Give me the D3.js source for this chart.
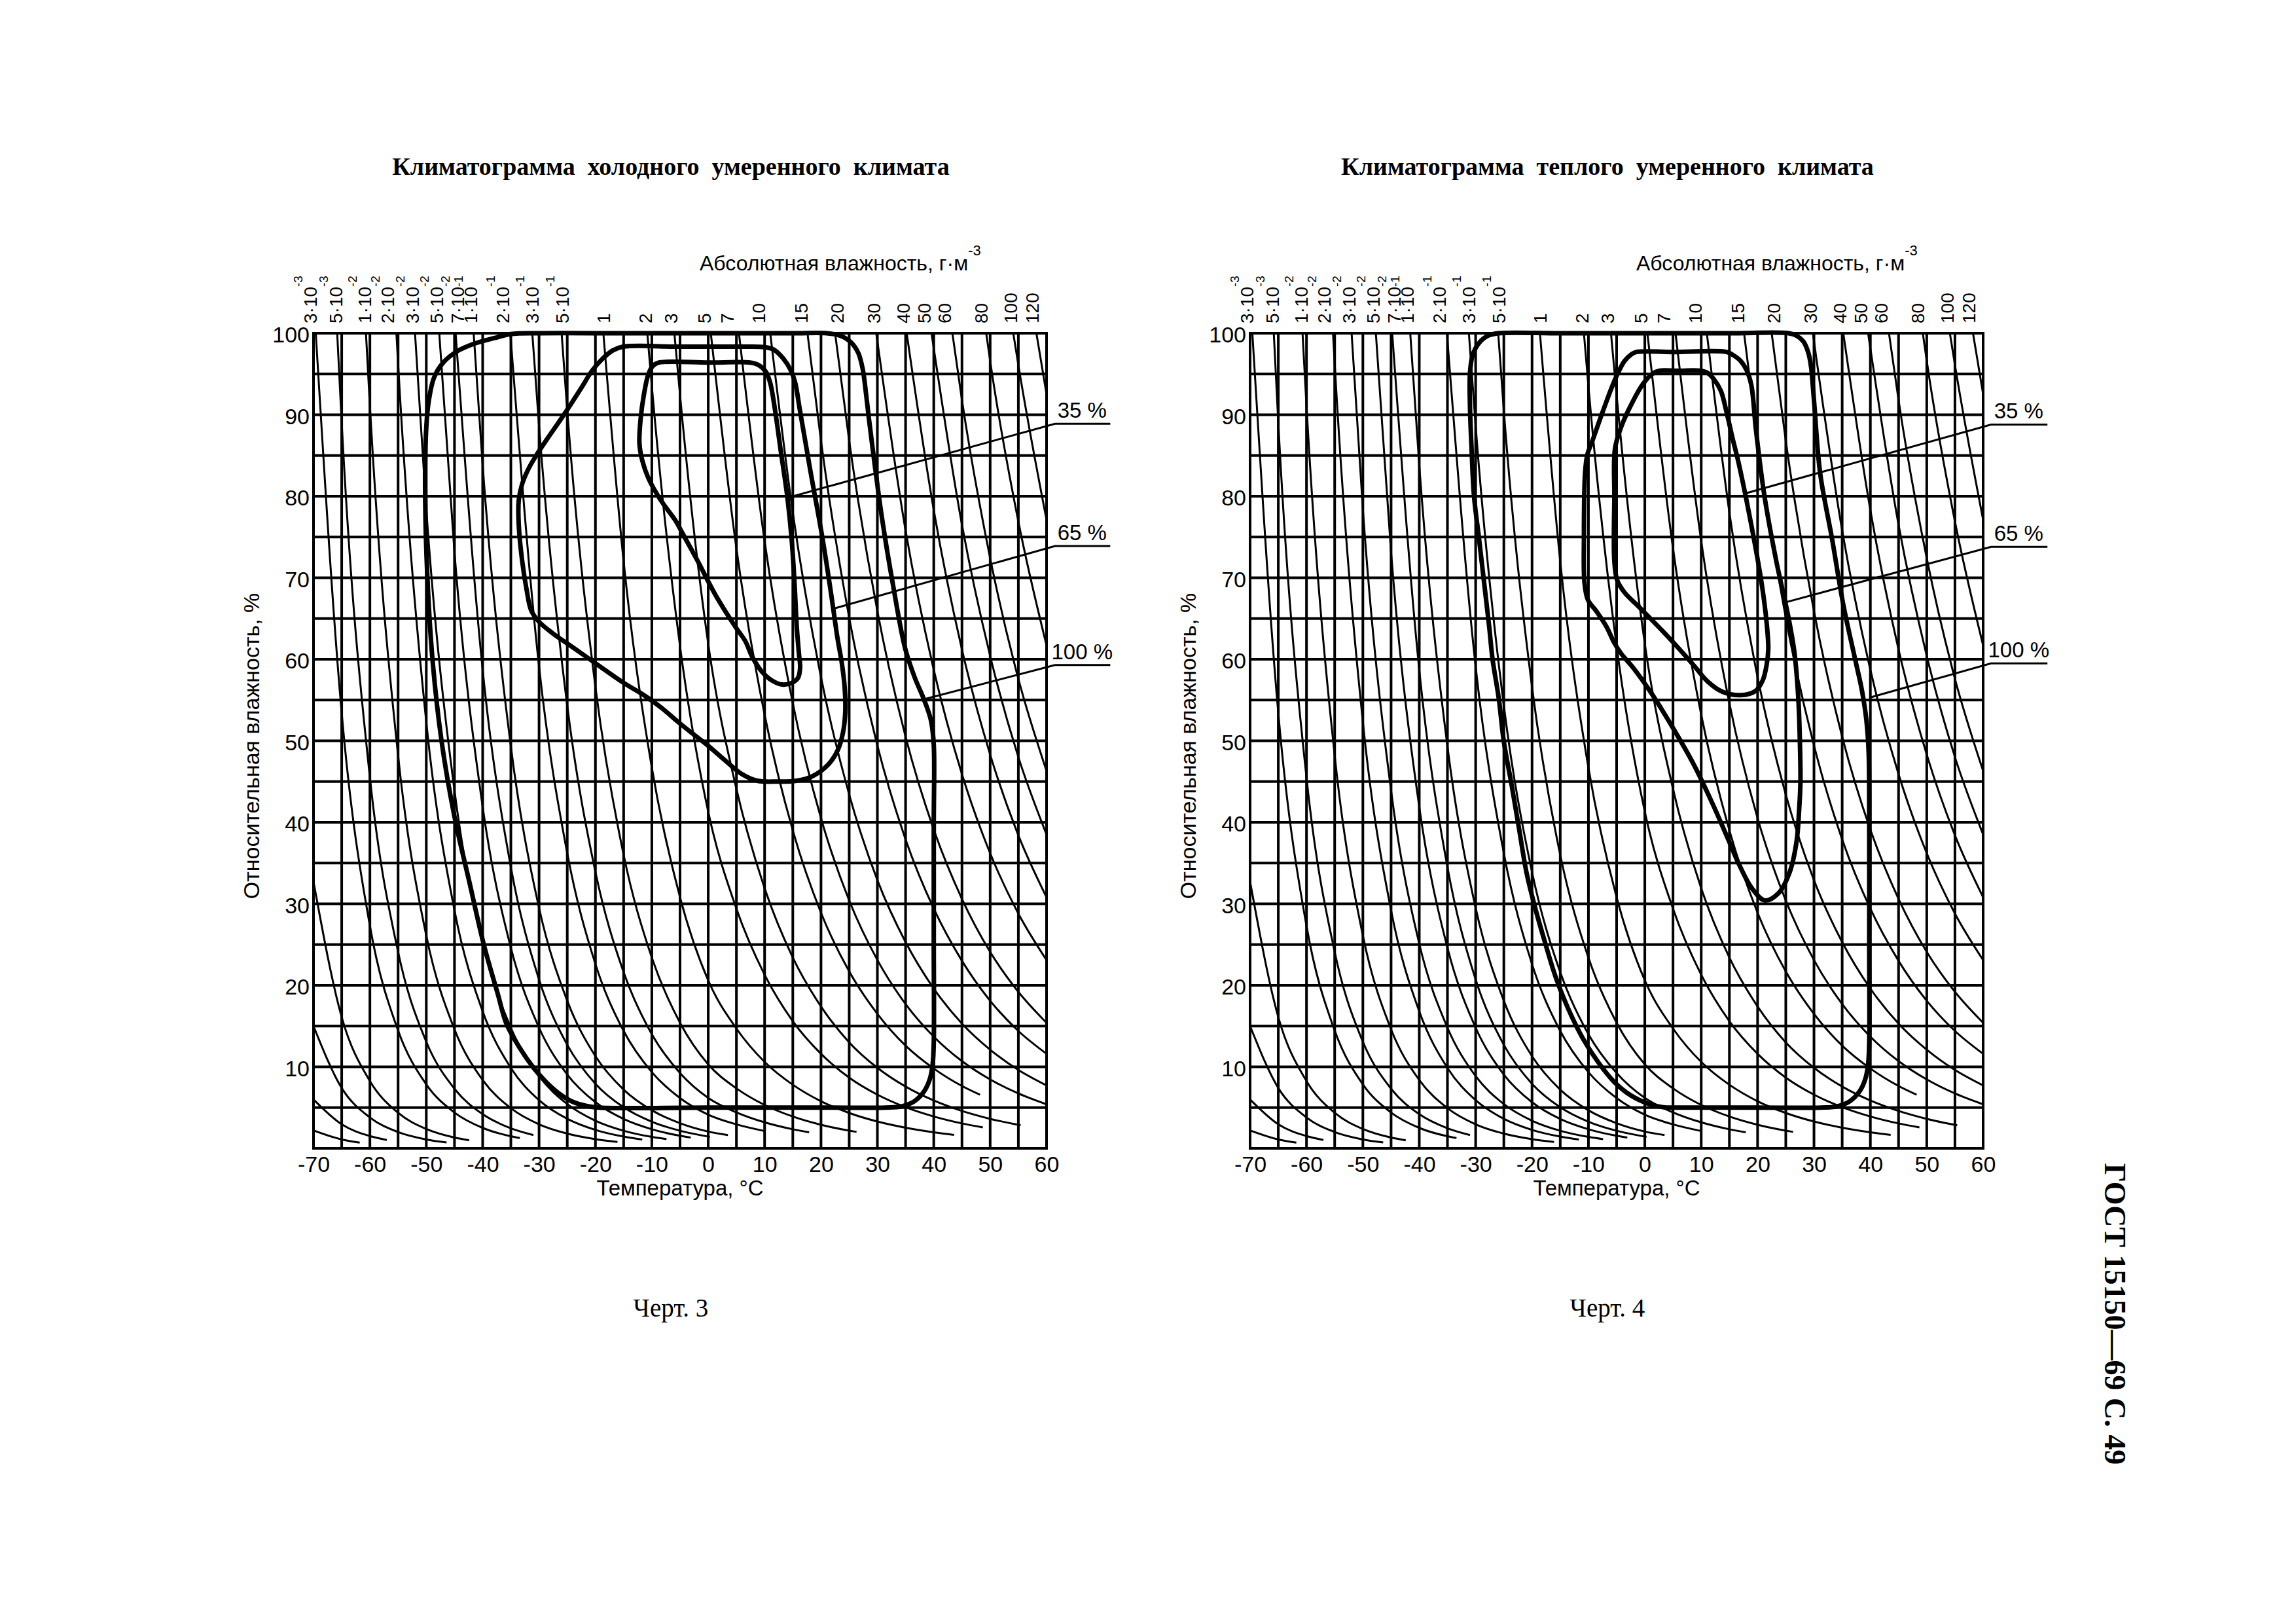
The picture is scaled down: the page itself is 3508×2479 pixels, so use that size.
<!DOCTYPE html>
<html>
<head>
<meta charset="utf-8">
<script src="https://cdn.jsdelivr.net/npm/d3@7"></script>
<style>
html,body{margin:0;padding:0;background:#fff;}
svg{display:block;}
</style>
</head>
<body>
<svg id="page" width="3508" height="2479"></svg>
<script>
// ---------------- DATA ----------------
const tempTicks = [-70,-60,-50,-40,-30,-20,-10,0,10,20,30,40,50,60];
const tempGrid  = [-70,-65,-60,-55,-50,-45,-40,-35,-30,-25,-20,-15,-10,-5,0,5,10,15,20,25,30,35,40,45,50,55,60];
const rhTicks   = [10,20,30,40,50,60,70,80,90,100];
const rhGrid    = [0,5,10,15,20,25,30,35,40,45,50,55,60,65,70,75,80,85,90,95,100];

// absolute humidity isoline labels (g/m3) and their positions (deg C) along the top
const absHumBase = ["3·10","5·10","1·10","2·10","3·10","5·10","7·10","1·10","2·10","3·10","5·10",
                    "1","2","3","5","7","10","15","20","30","40","50","60","80","100","120"];
const absHumExp  = ["-3","-3","-2","-2","-2","-2","-2","-1","-1","-1","-1",
                    "","","","","","","","","","","","","","",""];
const absHumLabelTemps = [-70.6,-66.1,-61.0,-56.9,-52.5,-48.2,-44.5,-42.2,-36.5,-31.2,-25.9,
                          -18.6,-11.2,-6.6,-0.75,3.4,8.9,16.5,22.9,29.3,34.6,38.3,41.9,48.4,53.6,57.5];

// isolines of absolute humidity: [temperature, relative humidity] points
const isolines = [
  [[-70,2.2],[-65,1.09],[-61.8,0.71]],
  [[-70,6.0],[-65,2.95],[-60,1.51],[-57,1.03]],
  [[-70,15.0],[-65,7.40],[-60,3.79],[-55,2.00],[-50,1.09],[-46.4,0.72]],
  [[-70,32.7],[-65,16.1],[-60,8.25],[-55,4.36],[-50,2.37],[-45,1.32],[-42.4,0.99]],
  [[-69.6,100],[-65,53.4],[-60,27.3],[-55,14.45],[-50,7.84],[-45,4.39],[-40,2.51],[-35,1.48],[-33.4,1.26]],
  [[-65.8,100],[-65,89.0],[-60,45.5],[-55,24.1],[-50,13.07],[-45,7.31],[-40,4.19],[-35,2.46],[-31,1.63]],
  [[-60.7,100],[-60,91.1],[-55,48.2],[-50,26.1],[-45,14.6],[-40,8.38],[-35,4.93],[-30,2.95],[-25,1.81],[-20,1.13],[-16.1,0.79]],
  [[-55.3,100],[-55,96.3],[-50,52.3],[-45,29.2],[-40,16.8],[-35,9.86],[-30,5.91],[-25,3.62],[-20,2.26],[-15,1.44],[-11.7,1.08]],
  [[-52.0,100],[-50,78.4],[-45,43.9],[-40,25.1],[-35,14.8],[-30,8.86],[-25,5.43],[-20,3.39],[-15,2.16],[-10,1.40],[-7.4,1.13]],
  [[-47.7,100],[-45,73.1],[-40,41.9],[-35,24.6],[-30,14.8],[-25,9.05],[-20,5.66],[-15,3.60],[-10,2.34],[-5,1.54],[-3.1,1.32]],
  [[-44.8,100],[-40,58.7],[-35,34.5],[-30,20.7],[-25,12.7],[-20,7.92],[-15,5.04],[-10,3.27],[-5,2.16],[0.3,1.41]],
  [[-41.6,100],[-40,83.8],[-35,49.3],[-30,29.5],[-25,18.1],[-20,11.3],[-15,7.20],[-10,4.67],[-5,3.08],[0,2.06],[3.5,1.63]],
  [[-35.1,100],[-30,59.1],[-25,36.2],[-20,22.6],[-15,14.4],[-10,9.35],[-5,6.16],[0,4.13],[5,2.94],[9.9,2.14]],
  [[-31.2,100],[-30,88.6],[-25,54.3],[-20,33.9],[-15,21.6],[-10,14.0],[-5,9.24],[0,6.19],[5,4.41],[10,3.19],[15,2.34],[17.9,1.97]],
  [[-26.0,100],[-25,90.5],[-20,56.6],[-15,36.0],[-10,23.4],[-5,15.4],[0,10.3],[5,7.36],[10,5.32],[15,3.90],[20,2.89],[25,2.17],[26.3,2.02]],
  [[-18.6,100],[-15,72.0],[-10,46.7],[-5,30.8],[0,20.6],[5,14.7],[10,10.6],[15,7.80],[20,5.78],[25,4.34],[30,3.29],[35,2.53],[40,1.96],[43.6,1.64]],
  [[-10.8,100],[-10,93.5],[-5,61.6],[0,41.3],[5,29.4],[10,21.3],[15,15.6],[20,11.6],[25,8.68],[30,6.59],[35,5.05],[40,3.91],[45,3.06],[48.7,2.57]],
  [[-6.0,100],[-5,92.4],[0,61.9],[5,44.1],[10,31.9],[15,23.4],[20,17.4],[25,13.0],[30,9.88],[35,7.58],[40,5.87],[45,4.59],[50,3.62],[55.4,2.83]],
  [[0.46,100],[5,73.6],[10,53.2],[15,39.0],[20,28.9],[25,21.7],[30,16.5],[35,12.6],[40,9.79],[45,7.65],[48.2,6.58]],
  [[5.45,100],[10,74.5],[15,54.6],[20,40.5],[25,30.4],[30,23.1],[35,17.7],[40,13.7],[45,10.7],[50,8.45],[55,6.73],[60,5.40]],
  [[11.0,100],[15,78.0],[20,57.8],[25,43.4],[30,32.9],[35,25.3],[40,19.6],[45,15.3],[50,12.1],[55,9.61],[60,7.71]],
  [[17.6,100],[20,86.8],[25,65.1],[30,49.4],[35,37.9],[40,29.4],[45,23.0],[50,18.1],[55,14.4],[60,11.6]],
  [[22.5,100],[25,86.8],[30,65.9],[35,50.5],[40,39.1],[45,30.6],[50,24.1],[55,19.2],[60,15.4]],
  [[29.8,100],[35,75.8],[40,58.7],[45,45.9],[50,36.2],[55,28.8],[60,23.1]],
  [[35.2,100],[40,78.3],[45,61.2],[50,48.3],[55,38.4],[60,30.8]],
  [[39.6,100],[45,76.5],[50,60.4],[55,48.0],[60,38.5]],
  [[43.3,100],[45,91.8],[50,72.4],[55,57.6],[60,46.3]],
  [[49.3,100],[50,96.6],[55,76.9],[60,61.7]],
  [[54.1,100],[55,96.1],[60,77.1]],
  [[58.2,100],[60,92.5]]
];

// Черт. 3 — cold temperate climate contours [T, RH]
const cold100 = [[-38,99.4],[-35,99.9],[-30,100],[-15,100],[0,100],[15,100],[21,100],[23.4,99.7],[25.3,98.9],[26.6,97.6],[27.4,95.6],[28.0,92.5],[28.5,89.5],[29.6,83.5],[30.8,77.4],[32.8,69.0],[34.9,61.4],[36.6,57.8],[38.3,55.0],[39.5,52.5],[40,49.5],[40,40],[40,25],[40,13],[39.8,10.3],[39.3,8.5],[38.3,7.0],[36.6,5.8],[34.3,5.15],[31.5,5.0],[20,5],[0,5],[-19.5,5.0],[-21.6,5.2],[-24,5.7],[-26.2,6.6],[-28.7,8.1],[-31,9.9],[-33.5,12.4],[-35.8,15.3],[-37.3,18.9],[-39.8,25],[-42.3,32.5],[-45,40.7],[-47.3,50],[-48.9,60],[-49.8,70],[-50.2,80],[-50.1,87],[-49.6,91.5],[-48.6,94.6],[-47.0,96.4],[-44.5,97.8],[-41.6,98.7]];
const cold65 = [[-15.1,98.35],[-5,98.35],[5,98.35],[10,98.3],[11.6,98.0],[13.3,96.9],[14.6,95.5],[15.4,94.0],[16.2,90.8],[17.2,86.8],[18.2,82.8],[20.3,74.7],[21.8,68.0],[22.9,62.7],[23.7,59.5],[24.2,56.5],[24.3,53.5],[23.9,51.0],[23.0,48.9],[21.3,47.1],[18.6,45.7],[15.7,45.1],[12.2,45.0],[8.7,45.1],[6.0,45.9],[3.3,47.4],[-0.2,49.5],[-2.8,50.9],[-5.5,52.4],[-8.2,54.0],[-11.2,55.5],[-15.2,57.2],[-21.0,60.0],[-24.5,61.7],[-27.6,63.2],[-30.0,64.6],[-31.4,66.0],[-32.2,68.5],[-33.0,72.1],[-33.6,76.5],[-33.6,79.5],[-33.0,81.5],[-32.0,83.2],[-30.6,84.9],[-28,87.6],[-25.4,90.2],[-22.5,93.3],[-20.6,95.4],[-18.7,96.9],[-16.9,97.9]];
const cold35 = [[-8.8,96.4],[0,96.4],[7.4,96.4],[8.9,96.1],[10.2,95.3],[11.0,93.9],[11.8,90.8],[12.9,85.4],[14.0,80.1],[14.8,74.7],[15.3,69.4],[15.7,64.0],[16.1,60.6],[16.3,59.0],[15.9,57.7],[14.8,57.1],[13.1,56.9],[11.3,57.4],[9.5,58.5],[7.8,60.3],[6.6,62.2],[4.8,64.0],[1.2,68.0],[-1.9,72.1],[-4.6,75.5],[-5.7,76.9],[-8.4,79.5],[-10.6,82.2],[-11.7,84.4],[-12.2,86.5],[-12.0,89.4],[-11.4,92.5],[-10.6,95.0],[-9.8,96.0]];

// Черт. 4 — warm temperate climate contours [T, RH]
const warm100 = [[-26,100],[-15,100],[0,100],[15,100],[25.5,100],[26.9,99.7],[28.1,99.0],[29.0,97.6],[29.5,95.8],[29.8,93.5],[30.1,90.9],[31.1,82.8],[33.2,74.8],[35.2,66.7],[37.3,60.0],[38.5,56.2],[39.3,52.5],[39.7,48.5],[39.8,40],[39.8,25],[39.8,13],[39.6,10.3],[39.1,8.5],[38.1,7.0],[36.4,5.8],[34.1,5.15],[31.3,5.0],[20,5],[6,5],[3.2,5.05],[0.5,5.5],[-2.5,6.5],[-5.5,8.2],[-8.2,10.5],[-11.0,13.5],[-13.5,17.0],[-15.8,21.0],[-17.8,25.5],[-19.6,29.9],[-21.0,33.9],[-22.3,39.2],[-23.6,44.5],[-25.0,49.9],[-25.9,55.2],[-27.0,60.0],[-27.6,64.0],[-28.5,69.4],[-29.4,74.8],[-30.3,80.1],[-30.7,85.5],[-31.0,90.9],[-31.0,95.2],[-30.5,97.4],[-29.4,98.8],[-27.8,99.7]];
const warm65 = [[-1.5,97.7],[5,97.7],[14.5,97.7],[15.7,97.3],[17.0,96.6],[18.1,95.4],[18.9,93.6],[19.7,88.2],[21.2,80.1],[23.3,72.1],[25.4,65.4],[26.5,61.0],[27.2,55.5],[27.5,49.9],[27.6,45],[27.4,41.9],[26.9,37.6],[25.7,33.9],[23.7,31.3],[21.3,30.4],[19.0,31.9],[16.8,34.7],[14.6,38.2],[12.0,42.3],[8.6,47.2],[4.8,51.8],[1.2,55.8],[-2.0,58.9],[-4.2,60.7],[-5.4,62.0],[-6.8,64.0],[-8.6,65.9],[-10.1,67.3],[-10.7,69.4],[-10.8,74.8],[-10.6,82.8],[-10.2,85.1],[-9.4,86.6],[-7.4,90.5],[-5.3,94.3],[-3.6,96.6],[-2.4,97.4]];
const warm35 = [[2.6,95.4],[6,95.4],[9.9,95.4],[11.2,95.1],[12.2,94.4],[13.5,92.9],[14.5,90.3],[15.6,87.0],[16.6,84.2],[18.6,77.5],[20.7,69.4],[21.6,64.5],[21.9,61.3],[21.6,59.3],[20.9,57.4],[19.6,56.1],[17.0,55.6],[13.8,56.0],[11.1,57.3],[8.5,59.4],[4.2,62.7],[-1.0,66.4],[-3.6,68.2],[-4.9,69.7],[-5.4,72],[-5.4,80],[-5.3,85.8],[-4.2,88.5],[-2.3,91.4],[-0.3,93.8],[1.3,95.0]];

const contourLabels = ["35 %","65 %","100 %"];
// leader lines: [start on contour, elbow, end], in [T, RH]
const coldLeaders = [[[14.0,79.8],[61.5,88.9],[71.3,88.9]],[[22.2,66.2],[61.5,73.9],[71.3,73.9]],[[38.3,55.1],[61.5,59.3],[71.3,59.3]]];
const warmLeaders = [[[18.1,80.4],[61.4,88.8],[71.4,88.8]],[[25.0,67.0],[61.4,73.8],[71.4,73.8]],[[39.9,55.3],[61.4,59.5],[71.4,59.5]]];
const contourLabelTemp = 66.3;

const titles = ["Климатограмма  холодного  умеренного  климата","Климатограмма  теплого  умеренного  климата"];
const chertLabels = ["Черт. 3","Черт. 4"];

// ---------------- DRAW ----------------
const SANS = "'Liberation Sans', Arial, sans-serif";
const SERIF = "'Liberation Serif', 'Times New Roman', serif";
const PLOT_TOP = 509, PLOT_W = 1120, PLOT_H = 1245;
const svg = d3.select("#page");
svg.append("rect").attr("width",3508).attr("height",2479).attr("fill","#fff");
const defs = svg.append("defs");

function drawChart(ox, contours, leaders, title, chert, clipId) {
  const x = d3.scaleLinear().domain([-70,60]).range([0,PLOT_W]);
  const y = d3.scaleLinear().domain([0,100]).range([PLOT_H,0]);
  defs.append("clipPath").attr("id",clipId).append("rect")
    .attr("x",0).attr("y",0).attr("width",PLOT_W).attr("height",PLOT_H);
  const g = svg.append("g").attr("transform",`translate(${ox},${PLOT_TOP})`);

  // grid
  g.append("g").selectAll("line").data(tempGrid).join("line")
    .attr("x1",d=>x(d)).attr("x2",d=>x(d)).attr("y1",0).attr("y2",PLOT_H)
    .attr("stroke","#000").attr("stroke-width",4).attr("stroke-linecap","square");
  g.append("g").selectAll("line").data(rhGrid).join("line")
    .attr("x1",0).attr("x2",PLOT_W).attr("y1",d=>y(d)).attr("y2",d=>y(d))
    .attr("stroke","#000").attr("stroke-width",4).attr("stroke-linecap","square");

  // isolines
  const isoLine = d3.line().x(d=>x(d[0])).y(d=>y(d[1])).curve(d3.curveMonotoneX);
  g.append("g").attr("clip-path",`url(#${clipId})`)
    .selectAll("path").data(isolines).join("path")
    .attr("d",isoLine).attr("fill","none").attr("stroke","#000").attr("stroke-width",3);

  // contours
  const cLine = d3.line().x(d=>x(d[0])).y(d=>y(d[1])).curve(d3.curveCatmullRomClosed.alpha(0.5));
  g.append("g").selectAll("path").data(contours).join("path")
    .attr("d",cLine).attr("fill","none").attr("stroke","#000")
    .attr("stroke-width",7).attr("stroke-linejoin","round");

  // leaders
  const lLine = d3.line().x(d=>x(d[0])).y(d=>y(d[1]));
  g.append("g").selectAll("path").data(leaders).join("path")
    .attr("d",lLine).attr("fill","none").attr("stroke","#000").attr("stroke-width",3);
  g.append("g").selectAll("text").data(leaders).join("text")
    .attr("x",x(contourLabelTemp)).attr("y",d=>y(d[2][1])-9)
    .attr("text-anchor","middle").attr("font-family",SANS).attr("font-size",33)
    .text((d,i)=>contourLabels[i]);

  // axes
  const xAxis = d3.axisBottom(x).tickValues(tempTicks).tickSize(0).tickPadding(12).tickFormat(d=>String(d));
  g.append("g").attr("transform",`translate(0,${PLOT_H})`).call(xAxis)
    .call(a=>a.select(".domain").remove())
    .attr("font-family",SANS).attr("font-size",34);
  const yAxis = d3.axisLeft(y).tickValues(rhTicks).tickSize(0).tickPadding(6).tickFormat(d=>String(d));
  g.append("g").call(yAxis)
    .call(a=>a.select(".domain").remove())
    .attr("font-family",SANS).attr("font-size",34)
    .selectAll("text").attr("dy","0.40em");

  // axis titles
  g.append("text").attr("x",PLOT_W/2).attr("y",PLOT_H+72).attr("text-anchor","middle")
    .attr("font-family",SANS).attr("font-size",33).text("Температура, °С");
  g.append("text").attr("transform",`translate(-83,${PLOT_H/2+8}) rotate(-90)`)
    .attr("text-anchor","middle").attr("font-family",SANS).attr("font-size",34)
    .text("Относительная влажность, %");

  // absolute humidity label
  const ah = g.append("text").attr("x",590).attr("y",-96)
    .attr("font-family",SANS).attr("font-size",32);
  ah.append("tspan").text("Абсолютная влажность, г·м");
  ah.append("tspan").attr("dy",-23).attr("font-size",22).text("-3");

  // isoline value labels
  const lab = g.append("g").attr("font-family",SANS).attr("font-size",28);
  absHumLabelTemps.forEach((t,i)=>{
    const tx = lab.append("text").attr("transform",`translate(${x(t)+10},-15) rotate(-90)`);
    tx.append("tspan").text(absHumBase[i]);
    if (absHumExp[i]) tx.append("tspan").attr("dy",-22).attr("font-size",19).text(absHumExp[i]);
  });

  // title and figure caption
  svg.append("text").attr("x",ox+PLOT_W/2-14).attr("y",267).attr("text-anchor","middle")
    .attr("font-family",SERIF).attr("font-weight","bold").attr("font-size",38)
    .attr("xml:space","preserve").style("white-space","pre").text(title);
  svg.append("text").attr("x",ox+PLOT_W/2-14).attr("y",2011).attr("text-anchor","middle")
    .attr("font-family",SERIF).attr("font-size",39).text(chert);
}

drawChart(479,  [cold100,cold65,cold35], coldLeaders, titles[0], chertLabels[0], "clipL");
drawChart(1910, [warm100,warm65,warm35], warmLeaders, titles[1], chertLabels[1], "clipR");

svg.append("text").attr("transform","translate(3231,2007) rotate(90)")
  .attr("text-anchor","middle").attr("dominant-baseline","central")
  .attr("font-family",SERIF).attr("font-weight","bold").attr("font-size",46)
  .text("ГОСТ 15150—69 С. 49");
</script>
</body>
</html>
